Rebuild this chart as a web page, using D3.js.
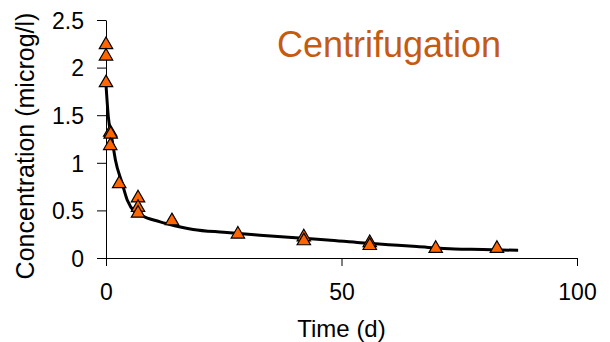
<!DOCTYPE html>
<html>
<head>
<meta charset="utf-8">
<script src="https://cdn.jsdelivr.net/npm/d3@7"></script>
<style>
  body { margin: 0; background: #fff; }
  svg { display: block; font-family: "Liberation Sans", Arial, sans-serif; }
</style>
</head>
<body>
<svg id="chart" width="610" height="342"></svg>
<script>
// Measured concentrations (triangles)
const obsTime = [0, 0, 0, 0.9, 1, 0.9, 2.8, 6.8, 6.8, 6.8, 14, 28, 42, 42, 56, 56, 70, 83];
const obsConc = [2.24, 2.12, 1.84, 1.32, 1.30, 1.18, 0.78, 0.63, 0.53, 0.47, 0.39, 0.25, 0.22, 0.18, 0.16, 0.13, 0.10, 0.10];

// Fitted curve
const fitTime = [0, 0.5, 1.3, 2, 3.4, 4.5, 6.2, 8.3, 11.5, 13, 18.5, 25, 32.7, 41, 47, 54, 60, 66, 74, 80, 87.5];
const fitConc = [1.82, 1.48, 1.24, 1.03, 0.79, 0.61, 0.48, 0.43, 0.38, 0.36, 0.30, 0.27, 0.24, 0.21, 0.19, 0.16, 0.14, 0.12, 0.095, 0.09, 0.08];

const xTicks = [0, 50, 100];
const yTicks = [0, 0.5, 1, 1.5, 2, 2.5];

const title = "Centrifugation";
const xTitle = "Time (d)";
const yTitle = "Concentration (microg/l)";

const svg = d3.select("#chart");

const x = d3.scaleLinear().domain([0, 100]).range([106, 577]);
const y = d3.scaleLinear().domain([0, 2.5]).range([258, 20]);

// Axes
const yAxis = d3.axisLeft(y)
    .tickValues(yTicks)
    .tickFormat(d3.format("~g"))
    .tickSizeInner(9)
    .tickSizeOuter(0)
    .tickPadding(13);
const xAxis = d3.axisBottom(x)
    .tickValues(xTicks)
    .tickSizeInner(8)
    .tickSizeOuter(0)
    .tickPadding(18);

const gy = svg.append("g")
    .attr("transform", `translate(${x(0)},0)`)
    .call(yAxis);
const gx = svg.append("g")
    .attr("transform", `translate(0,${y(0)})`)
    .call(xAxis);

[gx, gy].forEach((g) => {
    g.selectAll("path, line").attr("stroke", "#000").attr("stroke-width", 1);
    g.selectAll("text")
        .attr("fill", "#000")
        .style("font-size", "23px")
        .style("font-family", "'Liberation Sans', Arial, sans-serif");
});
gy.selectAll("text").attr("dy", "0.36em");

// Axis titles
svg.append("text")
    .attr("x", (x(0) + x(100)) / 2)
    .attr("y", 337)
    .attr("text-anchor", "middle")
    .style("font-size", "24px")
    .text(xTitle);

svg.append("text")
    .attr("transform", `translate(34,${146}) rotate(-90)`)
    .attr("text-anchor", "middle")
    .style("font-size", "25px")
    .text(yTitle);

// Title
svg.append("text")
    .attr("x", 277)
    .attr("y", 57)
    .attr("fill", "#c55a11")
    .style("font-size", "36px")
    .text(title);

// Fitted line
const fit = fitTime.map((t, i) => [t, fitConc[i]]);
svg.append("path")
    .datum(fit)
    .attr("fill", "none")
    .attr("stroke", "#000")
    .attr("stroke-width", 3)
    .attr("stroke-linejoin", "round")
    .attr("d", d3.line().x((d) => x(d[0])).y((d) => y(d[1])).curve(d3.curveMonotoneX));

// Observations
const obs = obsTime.map((t, i) => [t, obsConc[i]]);
svg.append("g")
    .selectAll("path")
    .data(obs)
    .join("path")
    .attr("transform", (d) => `translate(${x(d[0])},${y(d[1])})`)
    .attr("d", d3.symbol(d3.symbolTriangle, 78))
    .attr("fill", "#ff6600")
    .attr("stroke", "#000")
    .attr("stroke-width", 1.2);
</script>
</body>
</html>
